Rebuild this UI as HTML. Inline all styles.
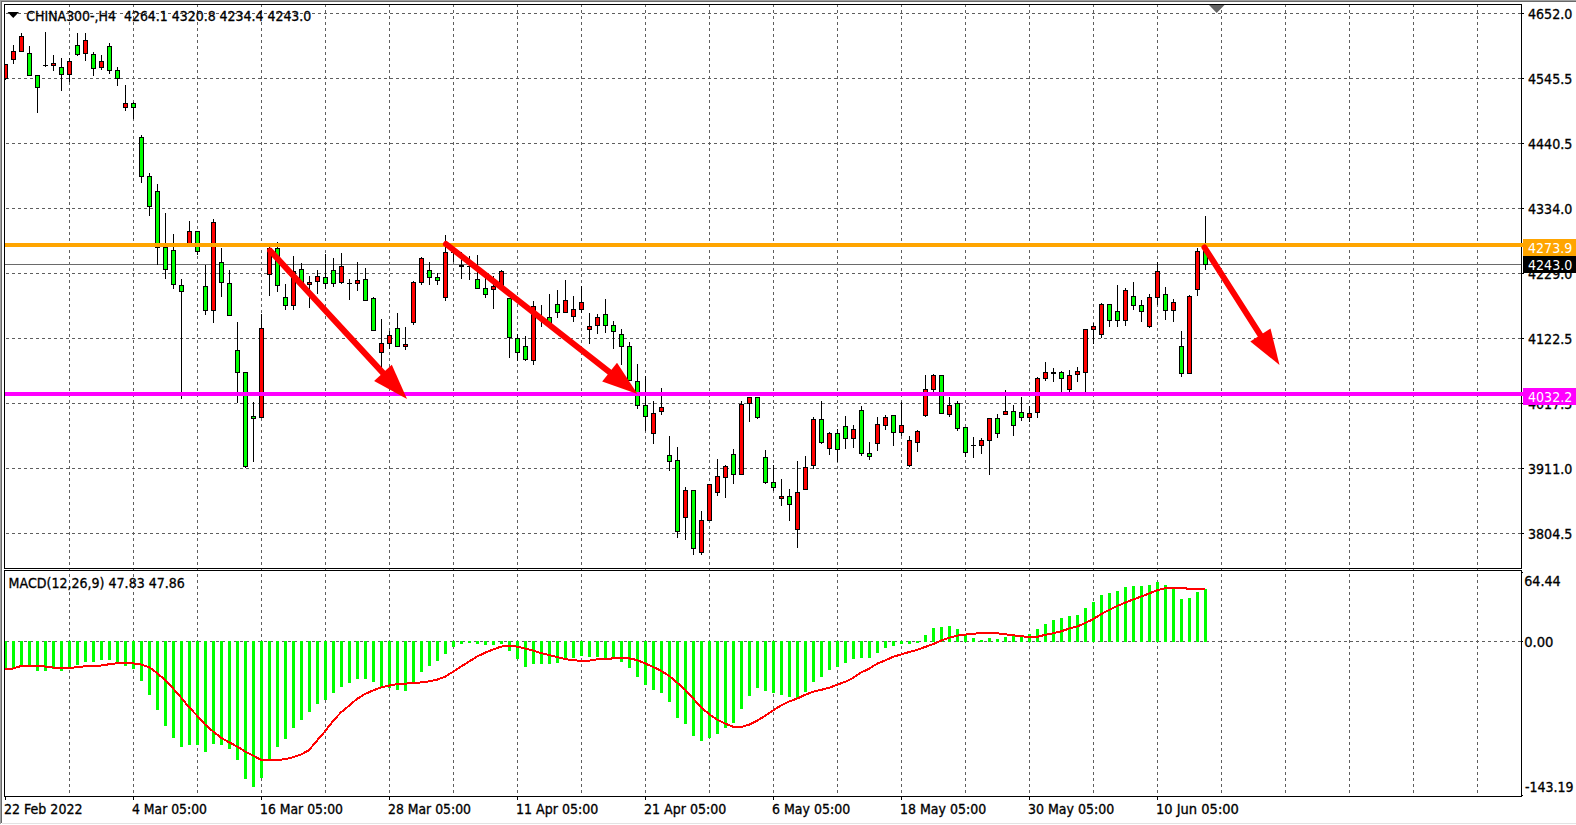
<!DOCTYPE html>
<html><head><meta charset="utf-8"><title>CHINA300-,H4</title>
<style>html,body{margin:0;padding:0;background:#fff;overflow:hidden}svg{display:block}text{white-space:pre}</style></head>
<body>
<svg width="1576" height="825" viewBox="0 0 1576 825" style="display:block">
<rect width="1576" height="825" fill="#fff"/>
<g shape-rendering="crispEdges">
<rect x="0" y="0" width="1576" height="1" fill="#a0a0a0"/>
<rect x="0" y="0" width="1" height="824" fill="#a0a0a0"/>
<rect x="1" y="1" width="1575" height="1" fill="#696969"/>
<rect x="1" y="1" width="1" height="822" fill="#696969"/>
<rect x="2" y="823" width="1574" height="1" fill="#e3e3e3"/>
</g>
<g stroke="#5e5e5e" stroke-width="1" stroke-dasharray="3 3" shape-rendering="crispEdges" fill="none">
<path d="M69.5 4V796"/>
<path d="M133.5 4V796"/>
<path d="M197.5 4V796"/>
<path d="M261.5 4V796"/>
<path d="M325.5 4V796"/>
<path d="M389.5 4V796"/>
<path d="M453.5 4V796"/>
<path d="M517.5 4V796"/>
<path d="M581.5 4V796"/>
<path d="M645.5 4V796"/>
<path d="M709.5 4V796"/>
<path d="M773.5 4V796"/>
<path d="M837.5 4V796"/>
<path d="M901.5 4V796"/>
<path d="M965.5 4V796"/>
<path d="M1029.5 4V796"/>
<path d="M1093.5 4V796"/>
<path d="M1157.5 4V796"/>
<path d="M1221.5 4V796"/>
<path d="M1285.5 4V796"/>
<path d="M1349.5 4V796"/>
<path d="M1413.5 4V796"/>
<path d="M1477.5 4V796"/>
<path d="M6 13.5H1521"/>
<path d="M6 78.5H1521"/>
<path d="M6 143.5H1521"/>
<path d="M6 208.5H1521"/>
<path d="M6 273.5H1521"/>
<path d="M6 338.5H1521"/>
<path d="M6 403.5H1521"/>
<path d="M6 468.5H1521"/>
<path d="M6 533.5H1521"/>
<path d="M6 641.5H1521"/>
</g>
<g shape-rendering="crispEdges">
<rect x="5" y="264" width="1516" height="1" fill="#6a6a6a"/>
<rect x="5" y="64" width="1" height="16" fill="#000"/>
<rect x="5" y="64" width="3" height="15" fill="#000"/>
<rect x="5" y="65" width="2" height="13" fill="#f00"/>
<rect x="13" y="45" width="1" height="19" fill="#000"/>
<rect x="11" y="51" width="5" height="9" fill="#000"/>
<rect x="12" y="52" width="3" height="7" fill="#f00"/>
<rect x="21" y="33" width="1" height="19" fill="#000"/>
<rect x="19" y="36" width="5" height="16" fill="#000"/>
<rect x="20" y="37" width="3" height="14" fill="#f00"/>
<rect x="29" y="46" width="1" height="30" fill="#000"/>
<rect x="27" y="53" width="5" height="23" fill="#000"/>
<rect x="28" y="54" width="3" height="21" fill="#0f0"/>
<rect x="37" y="75" width="1" height="38" fill="#000"/>
<rect x="35" y="75" width="5" height="13" fill="#000"/>
<rect x="36" y="76" width="3" height="11" fill="#0f0"/>
<rect x="45" y="32" width="1" height="35" fill="#000"/>
<rect x="43" y="65" width="5" height="1" fill="#000"/>
<rect x="53" y="55" width="1" height="16" fill="#000"/>
<rect x="51" y="63" width="5" height="3" fill="#000"/>
<rect x="52" y="64" width="3" height="1" fill="#f00"/>
<rect x="61" y="58" width="1" height="33" fill="#000"/>
<rect x="59" y="67" width="5" height="8" fill="#000"/>
<rect x="60" y="68" width="3" height="6" fill="#0f0"/>
<rect x="69" y="58" width="1" height="24" fill="#000"/>
<rect x="67" y="61" width="5" height="14" fill="#000"/>
<rect x="68" y="62" width="3" height="12" fill="#f00"/>
<rect x="77" y="33" width="1" height="23" fill="#000"/>
<rect x="75" y="45" width="5" height="10" fill="#000"/>
<rect x="76" y="46" width="3" height="8" fill="#0f0"/>
<rect x="85" y="33" width="1" height="28" fill="#000"/>
<rect x="83" y="40" width="5" height="14" fill="#000"/>
<rect x="84" y="41" width="3" height="12" fill="#f00"/>
<rect x="93" y="52" width="1" height="24" fill="#000"/>
<rect x="91" y="54" width="5" height="15" fill="#000"/>
<rect x="92" y="55" width="3" height="13" fill="#0f0"/>
<rect x="101" y="55" width="1" height="15" fill="#000"/>
<rect x="99" y="61" width="5" height="7" fill="#000"/>
<rect x="100" y="62" width="3" height="5" fill="#f00"/>
<rect x="109" y="43" width="1" height="31" fill="#000"/>
<rect x="107" y="46" width="5" height="25" fill="#000"/>
<rect x="108" y="47" width="3" height="23" fill="#0f0"/>
<rect x="117" y="67" width="1" height="19" fill="#000"/>
<rect x="115" y="70" width="5" height="9" fill="#000"/>
<rect x="116" y="71" width="3" height="7" fill="#0f0"/>
<rect x="125" y="85" width="1" height="26" fill="#000"/>
<rect x="123" y="103" width="5" height="5" fill="#000"/>
<rect x="124" y="104" width="3" height="3" fill="#f00"/>
<rect x="133" y="102" width="1" height="17" fill="#000"/>
<rect x="131" y="103" width="5" height="5" fill="#000"/>
<rect x="132" y="104" width="3" height="3" fill="#0f0"/>
<rect x="141" y="135" width="1" height="48" fill="#000"/>
<rect x="139" y="137" width="5" height="40" fill="#000"/>
<rect x="140" y="138" width="3" height="38" fill="#0f0"/>
<rect x="149" y="173" width="1" height="43" fill="#000"/>
<rect x="147" y="176" width="5" height="31" fill="#000"/>
<rect x="148" y="177" width="3" height="29" fill="#0f0"/>
<rect x="157" y="184" width="1" height="81" fill="#000"/>
<rect x="155" y="191" width="5" height="57" fill="#000"/>
<rect x="156" y="192" width="3" height="55" fill="#0f0"/>
<rect x="165" y="213" width="1" height="66" fill="#000"/>
<rect x="163" y="247" width="5" height="23" fill="#000"/>
<rect x="164" y="248" width="3" height="21" fill="#0f0"/>
<rect x="173" y="234" width="1" height="55" fill="#000"/>
<rect x="171" y="250" width="5" height="35" fill="#000"/>
<rect x="172" y="251" width="3" height="33" fill="#0f0"/>
<rect x="181" y="279" width="1" height="120" fill="#000"/>
<rect x="179" y="285" width="5" height="7" fill="#000"/>
<rect x="180" y="286" width="3" height="5" fill="#0f0"/>
<rect x="189" y="221" width="1" height="25" fill="#000"/>
<rect x="187" y="231" width="5" height="15" fill="#000"/>
<rect x="188" y="232" width="3" height="13" fill="#f00"/>
<rect x="197" y="231" width="1" height="24" fill="#000"/>
<rect x="195" y="231" width="5" height="21" fill="#000"/>
<rect x="196" y="232" width="3" height="19" fill="#0f0"/>
<rect x="205" y="265" width="1" height="50" fill="#000"/>
<rect x="203" y="286" width="5" height="25" fill="#000"/>
<rect x="204" y="287" width="3" height="23" fill="#0f0"/>
<rect x="213" y="219" width="1" height="104" fill="#000"/>
<rect x="211" y="222" width="5" height="89" fill="#000"/>
<rect x="212" y="223" width="3" height="87" fill="#f00"/>
<rect x="221" y="248" width="1" height="49" fill="#000"/>
<rect x="219" y="262" width="5" height="21" fill="#000"/>
<rect x="220" y="263" width="3" height="19" fill="#0f0"/>
<rect x="229" y="270" width="1" height="46" fill="#000"/>
<rect x="227" y="283" width="5" height="33" fill="#000"/>
<rect x="228" y="284" width="3" height="31" fill="#0f0"/>
<rect x="237" y="322" width="1" height="81" fill="#000"/>
<rect x="235" y="350" width="5" height="23" fill="#000"/>
<rect x="236" y="351" width="3" height="21" fill="#0f0"/>
<rect x="245" y="372" width="1" height="96" fill="#000"/>
<rect x="243" y="372" width="5" height="95" fill="#000"/>
<rect x="244" y="373" width="3" height="93" fill="#0f0"/>
<rect x="253" y="402" width="1" height="60" fill="#000"/>
<rect x="251" y="416" width="5" height="3" fill="#000"/>
<rect x="252" y="417" width="3" height="1" fill="#0f0"/>
<rect x="261" y="314" width="1" height="104" fill="#000"/>
<rect x="259" y="328" width="5" height="90" fill="#000"/>
<rect x="260" y="329" width="3" height="88" fill="#f00"/>
<rect x="269" y="247" width="1" height="49" fill="#000"/>
<rect x="267" y="248" width="5" height="27" fill="#000"/>
<rect x="268" y="249" width="3" height="25" fill="#f00"/>
<rect x="277" y="242" width="1" height="50" fill="#000"/>
<rect x="275" y="248" width="5" height="38" fill="#000"/>
<rect x="276" y="249" width="3" height="36" fill="#0f0"/>
<rect x="285" y="284" width="1" height="26" fill="#000"/>
<rect x="283" y="297" width="5" height="9" fill="#000"/>
<rect x="284" y="298" width="3" height="7" fill="#0f0"/>
<rect x="293" y="256" width="1" height="54" fill="#000"/>
<rect x="291" y="271" width="5" height="35" fill="#000"/>
<rect x="292" y="272" width="3" height="33" fill="#f00"/>
<rect x="301" y="263" width="1" height="21" fill="#000"/>
<rect x="299" y="269" width="5" height="14" fill="#000"/>
<rect x="300" y="270" width="3" height="12" fill="#0f0"/>
<rect x="309" y="276" width="1" height="32" fill="#000"/>
<rect x="307" y="282" width="5" height="3" fill="#000"/>
<rect x="308" y="283" width="3" height="1" fill="#f00"/>
<rect x="317" y="270" width="1" height="24" fill="#000"/>
<rect x="315" y="276" width="5" height="6" fill="#000"/>
<rect x="316" y="277" width="3" height="4" fill="#f00"/>
<rect x="325" y="254" width="1" height="35" fill="#000"/>
<rect x="323" y="277" width="5" height="7" fill="#000"/>
<rect x="324" y="278" width="3" height="5" fill="#0f0"/>
<rect x="333" y="258" width="1" height="29" fill="#000"/>
<rect x="331" y="270" width="5" height="14" fill="#000"/>
<rect x="332" y="271" width="3" height="12" fill="#0f0"/>
<rect x="341" y="253" width="1" height="31" fill="#000"/>
<rect x="339" y="266" width="5" height="17" fill="#000"/>
<rect x="340" y="267" width="3" height="15" fill="#f00"/>
<rect x="349" y="279" width="1" height="21" fill="#000"/>
<rect x="347" y="283" width="5" height="1" fill="#000"/>
<rect x="357" y="262" width="1" height="29" fill="#000"/>
<rect x="355" y="280" width="5" height="4" fill="#000"/>
<rect x="356" y="281" width="3" height="2" fill="#f00"/>
<rect x="365" y="268" width="1" height="33" fill="#000"/>
<rect x="363" y="279" width="5" height="22" fill="#000"/>
<rect x="364" y="280" width="3" height="20" fill="#0f0"/>
<rect x="373" y="297" width="1" height="34" fill="#000"/>
<rect x="371" y="298" width="5" height="33" fill="#000"/>
<rect x="372" y="299" width="3" height="31" fill="#0f0"/>
<rect x="381" y="319" width="1" height="49" fill="#000"/>
<rect x="379" y="343" width="5" height="10" fill="#000"/>
<rect x="380" y="344" width="3" height="8" fill="#f00"/>
<rect x="389" y="331" width="1" height="18" fill="#000"/>
<rect x="387" y="335" width="5" height="9" fill="#000"/>
<rect x="388" y="336" width="3" height="7" fill="#f00"/>
<rect x="397" y="313" width="1" height="34" fill="#000"/>
<rect x="395" y="328" width="5" height="19" fill="#000"/>
<rect x="396" y="329" width="3" height="17" fill="#0f0"/>
<rect x="405" y="327" width="1" height="23" fill="#000"/>
<rect x="403" y="344" width="5" height="3" fill="#000"/>
<rect x="404" y="345" width="3" height="1" fill="#f00"/>
<rect x="413" y="281" width="1" height="44" fill="#000"/>
<rect x="411" y="282" width="5" height="41" fill="#000"/>
<rect x="412" y="283" width="3" height="39" fill="#f00"/>
<rect x="421" y="257" width="1" height="28" fill="#000"/>
<rect x="419" y="258" width="5" height="25" fill="#000"/>
<rect x="420" y="259" width="3" height="23" fill="#f00"/>
<rect x="429" y="262" width="1" height="23" fill="#000"/>
<rect x="427" y="270" width="5" height="8" fill="#000"/>
<rect x="428" y="271" width="3" height="6" fill="#0f0"/>
<rect x="437" y="273" width="1" height="12" fill="#000"/>
<rect x="435" y="277" width="5" height="4" fill="#000"/>
<rect x="436" y="278" width="3" height="2" fill="#0f0"/>
<rect x="445" y="235" width="1" height="66" fill="#000"/>
<rect x="443" y="252" width="5" height="46" fill="#000"/>
<rect x="444" y="253" width="3" height="44" fill="#f00"/>
<rect x="453" y="250" width="1" height="12" fill="#000"/>
<rect x="451" y="252" width="5" height="1" fill="#000"/>
<rect x="461" y="252" width="1" height="27" fill="#000"/>
<rect x="459" y="265" width="5" height="2" fill="#000"/>
<rect x="469" y="256" width="1" height="24" fill="#000"/>
<rect x="467" y="266" width="5" height="1" fill="#000"/>
<rect x="477" y="255" width="1" height="34" fill="#000"/>
<rect x="475" y="279" width="5" height="10" fill="#000"/>
<rect x="476" y="280" width="3" height="8" fill="#0f0"/>
<rect x="485" y="277" width="1" height="21" fill="#000"/>
<rect x="483" y="288" width="5" height="7" fill="#000"/>
<rect x="484" y="289" width="3" height="5" fill="#0f0"/>
<rect x="493" y="276" width="1" height="33" fill="#000"/>
<rect x="491" y="286" width="5" height="4" fill="#000"/>
<rect x="492" y="287" width="3" height="2" fill="#f00"/>
<rect x="501" y="270" width="1" height="18" fill="#000"/>
<rect x="499" y="271" width="5" height="17" fill="#000"/>
<rect x="500" y="272" width="3" height="15" fill="#f00"/>
<rect x="509" y="298" width="1" height="60" fill="#000"/>
<rect x="507" y="298" width="5" height="40" fill="#000"/>
<rect x="508" y="299" width="3" height="38" fill="#0f0"/>
<rect x="517" y="334" width="1" height="27" fill="#000"/>
<rect x="515" y="338" width="5" height="15" fill="#000"/>
<rect x="516" y="339" width="3" height="13" fill="#0f0"/>
<rect x="525" y="336" width="1" height="25" fill="#000"/>
<rect x="523" y="346" width="5" height="14" fill="#000"/>
<rect x="524" y="347" width="3" height="12" fill="#0f0"/>
<rect x="533" y="301" width="1" height="64" fill="#000"/>
<rect x="531" y="306" width="5" height="55" fill="#000"/>
<rect x="532" y="307" width="3" height="53" fill="#f00"/>
<rect x="541" y="305" width="1" height="22" fill="#000"/>
<rect x="539" y="318" width="5" height="1" fill="#000"/>
<rect x="549" y="294" width="1" height="30" fill="#000"/>
<rect x="547" y="317" width="5" height="7" fill="#000"/>
<rect x="548" y="318" width="3" height="5" fill="#0f0"/>
<rect x="557" y="290" width="1" height="28" fill="#000"/>
<rect x="555" y="304" width="5" height="9" fill="#000"/>
<rect x="556" y="305" width="3" height="7" fill="#0f0"/>
<rect x="565" y="280" width="1" height="33" fill="#000"/>
<rect x="563" y="300" width="5" height="13" fill="#000"/>
<rect x="564" y="301" width="3" height="11" fill="#f00"/>
<rect x="573" y="296" width="1" height="26" fill="#000"/>
<rect x="571" y="309" width="5" height="8" fill="#000"/>
<rect x="572" y="310" width="3" height="6" fill="#f00"/>
<rect x="581" y="286" width="1" height="27" fill="#000"/>
<rect x="579" y="302" width="5" height="8" fill="#000"/>
<rect x="580" y="303" width="3" height="6" fill="#f00"/>
<rect x="589" y="313" width="1" height="31" fill="#000"/>
<rect x="587" y="326" width="5" height="4" fill="#000"/>
<rect x="588" y="327" width="3" height="2" fill="#f00"/>
<rect x="597" y="314" width="1" height="20" fill="#000"/>
<rect x="595" y="317" width="5" height="9" fill="#000"/>
<rect x="596" y="318" width="3" height="7" fill="#f00"/>
<rect x="605" y="299" width="1" height="34" fill="#000"/>
<rect x="603" y="314" width="5" height="12" fill="#000"/>
<rect x="604" y="315" width="3" height="10" fill="#0f0"/>
<rect x="613" y="321" width="1" height="28" fill="#000"/>
<rect x="611" y="325" width="5" height="7" fill="#000"/>
<rect x="612" y="326" width="3" height="5" fill="#0f0"/>
<rect x="621" y="329" width="1" height="36" fill="#000"/>
<rect x="619" y="334" width="5" height="13" fill="#000"/>
<rect x="620" y="335" width="3" height="11" fill="#0f0"/>
<rect x="629" y="342" width="1" height="39" fill="#000"/>
<rect x="627" y="346" width="5" height="35" fill="#000"/>
<rect x="628" y="347" width="3" height="33" fill="#0f0"/>
<rect x="637" y="364" width="1" height="45" fill="#000"/>
<rect x="635" y="381" width="5" height="25" fill="#000"/>
<rect x="636" y="382" width="3" height="23" fill="#0f0"/>
<rect x="645" y="376" width="1" height="55" fill="#000"/>
<rect x="643" y="405" width="5" height="12" fill="#000"/>
<rect x="644" y="406" width="3" height="10" fill="#0f0"/>
<rect x="653" y="401" width="1" height="43" fill="#000"/>
<rect x="651" y="413" width="5" height="21" fill="#000"/>
<rect x="652" y="414" width="3" height="19" fill="#f00"/>
<rect x="661" y="388" width="1" height="27" fill="#000"/>
<rect x="659" y="407" width="5" height="5" fill="#000"/>
<rect x="660" y="408" width="3" height="3" fill="#f00"/>
<rect x="669" y="436" width="1" height="35" fill="#000"/>
<rect x="667" y="455" width="5" height="7" fill="#000"/>
<rect x="668" y="456" width="3" height="5" fill="#0f0"/>
<rect x="677" y="447" width="1" height="91" fill="#000"/>
<rect x="675" y="460" width="5" height="72" fill="#000"/>
<rect x="676" y="461" width="3" height="70" fill="#0f0"/>
<rect x="685" y="487" width="1" height="53" fill="#000"/>
<rect x="683" y="490" width="5" height="28" fill="#000"/>
<rect x="684" y="491" width="3" height="26" fill="#f00"/>
<rect x="693" y="490" width="1" height="65" fill="#000"/>
<rect x="691" y="490" width="5" height="59" fill="#000"/>
<rect x="692" y="491" width="3" height="57" fill="#0f0"/>
<rect x="701" y="511" width="1" height="44" fill="#000"/>
<rect x="699" y="520" width="5" height="33" fill="#000"/>
<rect x="700" y="521" width="3" height="31" fill="#f00"/>
<rect x="709" y="484" width="1" height="37" fill="#000"/>
<rect x="707" y="484" width="5" height="37" fill="#000"/>
<rect x="708" y="485" width="3" height="35" fill="#f00"/>
<rect x="717" y="459" width="1" height="37" fill="#000"/>
<rect x="715" y="476" width="5" height="17" fill="#000"/>
<rect x="716" y="477" width="3" height="15" fill="#f00"/>
<rect x="725" y="465" width="1" height="33" fill="#000"/>
<rect x="723" y="466" width="5" height="12" fill="#000"/>
<rect x="724" y="467" width="3" height="10" fill="#f00"/>
<rect x="733" y="449" width="1" height="35" fill="#000"/>
<rect x="731" y="454" width="5" height="21" fill="#000"/>
<rect x="732" y="455" width="3" height="19" fill="#0f0"/>
<rect x="741" y="401" width="1" height="74" fill="#000"/>
<rect x="739" y="404" width="5" height="71" fill="#000"/>
<rect x="740" y="405" width="3" height="69" fill="#f00"/>
<rect x="749" y="397" width="1" height="25" fill="#000"/>
<rect x="747" y="397" width="5" height="7" fill="#000"/>
<rect x="748" y="398" width="3" height="5" fill="#f00"/>
<rect x="757" y="397" width="1" height="22" fill="#000"/>
<rect x="755" y="397" width="5" height="21" fill="#000"/>
<rect x="756" y="398" width="3" height="19" fill="#0f0"/>
<rect x="765" y="450" width="1" height="34" fill="#000"/>
<rect x="763" y="457" width="5" height="26" fill="#000"/>
<rect x="764" y="458" width="3" height="24" fill="#0f0"/>
<rect x="773" y="465" width="1" height="26" fill="#000"/>
<rect x="771" y="482" width="5" height="6" fill="#000"/>
<rect x="772" y="483" width="3" height="4" fill="#0f0"/>
<rect x="781" y="479" width="1" height="27" fill="#000"/>
<rect x="779" y="496" width="5" height="3" fill="#000"/>
<rect x="780" y="497" width="3" height="1" fill="#f00"/>
<rect x="789" y="489" width="1" height="32" fill="#000"/>
<rect x="787" y="496" width="5" height="9" fill="#000"/>
<rect x="788" y="497" width="3" height="7" fill="#0f0"/>
<rect x="797" y="461" width="1" height="87" fill="#000"/>
<rect x="795" y="492" width="5" height="38" fill="#000"/>
<rect x="796" y="493" width="3" height="36" fill="#f00"/>
<rect x="805" y="456" width="1" height="34" fill="#000"/>
<rect x="803" y="467" width="5" height="23" fill="#000"/>
<rect x="804" y="468" width="3" height="21" fill="#f00"/>
<rect x="813" y="417" width="1" height="52" fill="#000"/>
<rect x="811" y="419" width="5" height="47" fill="#000"/>
<rect x="812" y="420" width="3" height="45" fill="#f00"/>
<rect x="821" y="401" width="1" height="43" fill="#000"/>
<rect x="819" y="419" width="5" height="24" fill="#000"/>
<rect x="820" y="420" width="3" height="22" fill="#0f0"/>
<rect x="829" y="432" width="1" height="23" fill="#000"/>
<rect x="827" y="433" width="5" height="16" fill="#000"/>
<rect x="828" y="434" width="3" height="14" fill="#f00"/>
<rect x="837" y="429" width="1" height="33" fill="#000"/>
<rect x="835" y="433" width="5" height="17" fill="#000"/>
<rect x="836" y="434" width="3" height="15" fill="#0f0"/>
<rect x="845" y="416" width="1" height="33" fill="#000"/>
<rect x="843" y="426" width="5" height="13" fill="#000"/>
<rect x="844" y="427" width="3" height="11" fill="#0f0"/>
<rect x="853" y="425" width="1" height="23" fill="#000"/>
<rect x="851" y="429" width="5" height="10" fill="#000"/>
<rect x="852" y="430" width="3" height="8" fill="#f00"/>
<rect x="861" y="406" width="1" height="50" fill="#000"/>
<rect x="859" y="410" width="5" height="44" fill="#000"/>
<rect x="860" y="411" width="3" height="42" fill="#0f0"/>
<rect x="869" y="442" width="1" height="18" fill="#000"/>
<rect x="867" y="453" width="5" height="4" fill="#000"/>
<rect x="868" y="454" width="3" height="2" fill="#0f0"/>
<rect x="877" y="417" width="1" height="34" fill="#000"/>
<rect x="875" y="424" width="5" height="20" fill="#000"/>
<rect x="876" y="425" width="3" height="18" fill="#f00"/>
<rect x="885" y="415" width="1" height="15" fill="#000"/>
<rect x="883" y="417" width="5" height="9" fill="#000"/>
<rect x="884" y="418" width="3" height="7" fill="#f00"/>
<rect x="893" y="415" width="1" height="31" fill="#000"/>
<rect x="891" y="415" width="5" height="18" fill="#000"/>
<rect x="892" y="416" width="3" height="16" fill="#0f0"/>
<rect x="901" y="402" width="1" height="34" fill="#000"/>
<rect x="899" y="425" width="5" height="8" fill="#000"/>
<rect x="900" y="426" width="3" height="6" fill="#f00"/>
<rect x="909" y="436" width="1" height="31" fill="#000"/>
<rect x="907" y="440" width="5" height="26" fill="#000"/>
<rect x="908" y="441" width="3" height="24" fill="#f00"/>
<rect x="917" y="430" width="1" height="22" fill="#000"/>
<rect x="915" y="431" width="5" height="12" fill="#000"/>
<rect x="916" y="432" width="3" height="10" fill="#f00"/>
<rect x="925" y="375" width="1" height="42" fill="#000"/>
<rect x="923" y="389" width="5" height="27" fill="#000"/>
<rect x="924" y="390" width="3" height="25" fill="#f00"/>
<rect x="933" y="374" width="1" height="18" fill="#000"/>
<rect x="931" y="375" width="5" height="15" fill="#000"/>
<rect x="932" y="376" width="3" height="13" fill="#f00"/>
<rect x="941" y="375" width="1" height="39" fill="#000"/>
<rect x="939" y="375" width="5" height="39" fill="#000"/>
<rect x="940" y="376" width="3" height="37" fill="#0f0"/>
<rect x="949" y="397" width="1" height="20" fill="#000"/>
<rect x="947" y="405" width="5" height="10" fill="#000"/>
<rect x="948" y="406" width="3" height="8" fill="#f00"/>
<rect x="957" y="401" width="1" height="30" fill="#000"/>
<rect x="955" y="403" width="5" height="26" fill="#000"/>
<rect x="956" y="404" width="3" height="24" fill="#0f0"/>
<rect x="965" y="427" width="1" height="30" fill="#000"/>
<rect x="963" y="427" width="5" height="26" fill="#000"/>
<rect x="964" y="428" width="3" height="24" fill="#0f0"/>
<rect x="973" y="437" width="1" height="21" fill="#000"/>
<rect x="971" y="445" width="5" height="1" fill="#000"/>
<rect x="981" y="438" width="1" height="16" fill="#000"/>
<rect x="979" y="440" width="5" height="6" fill="#000"/>
<rect x="980" y="441" width="3" height="4" fill="#f00"/>
<rect x="989" y="418" width="1" height="57" fill="#000"/>
<rect x="987" y="418" width="5" height="23" fill="#000"/>
<rect x="988" y="419" width="3" height="21" fill="#f00"/>
<rect x="997" y="414" width="1" height="24" fill="#000"/>
<rect x="995" y="418" width="5" height="16" fill="#000"/>
<rect x="996" y="419" width="3" height="14" fill="#0f0"/>
<rect x="1005" y="390" width="1" height="25" fill="#000"/>
<rect x="1003" y="411" width="5" height="4" fill="#000"/>
<rect x="1004" y="412" width="3" height="2" fill="#f00"/>
<rect x="1013" y="405" width="1" height="31" fill="#000"/>
<rect x="1011" y="411" width="5" height="15" fill="#000"/>
<rect x="1012" y="412" width="3" height="13" fill="#0f0"/>
<rect x="1021" y="397" width="1" height="24" fill="#000"/>
<rect x="1019" y="412" width="5" height="6" fill="#000"/>
<rect x="1020" y="413" width="3" height="4" fill="#0f0"/>
<rect x="1029" y="406" width="1" height="16" fill="#000"/>
<rect x="1027" y="413" width="5" height="5" fill="#000"/>
<rect x="1028" y="414" width="3" height="3" fill="#f00"/>
<rect x="1037" y="377" width="1" height="41" fill="#000"/>
<rect x="1035" y="378" width="5" height="35" fill="#000"/>
<rect x="1036" y="379" width="3" height="33" fill="#f00"/>
<rect x="1045" y="362" width="1" height="19" fill="#000"/>
<rect x="1043" y="372" width="5" height="7" fill="#000"/>
<rect x="1044" y="373" width="3" height="5" fill="#f00"/>
<rect x="1053" y="368" width="1" height="14" fill="#000"/>
<rect x="1051" y="372" width="5" height="2" fill="#000"/>
<rect x="1061" y="371" width="1" height="21" fill="#000"/>
<rect x="1059" y="372" width="5" height="7" fill="#000"/>
<rect x="1060" y="373" width="3" height="5" fill="#0f0"/>
<rect x="1069" y="370" width="1" height="22" fill="#000"/>
<rect x="1067" y="375" width="5" height="15" fill="#000"/>
<rect x="1068" y="376" width="3" height="13" fill="#f00"/>
<rect x="1077" y="367" width="1" height="15" fill="#000"/>
<rect x="1075" y="371" width="5" height="4" fill="#000"/>
<rect x="1076" y="372" width="3" height="2" fill="#f00"/>
<rect x="1085" y="329" width="1" height="63" fill="#000"/>
<rect x="1083" y="329" width="5" height="44" fill="#000"/>
<rect x="1084" y="330" width="3" height="42" fill="#f00"/>
<rect x="1093" y="323" width="1" height="21" fill="#000"/>
<rect x="1091" y="326" width="5" height="4" fill="#000"/>
<rect x="1092" y="327" width="3" height="2" fill="#f00"/>
<rect x="1101" y="303" width="1" height="35" fill="#000"/>
<rect x="1099" y="304" width="5" height="31" fill="#000"/>
<rect x="1100" y="305" width="3" height="29" fill="#f00"/>
<rect x="1109" y="304" width="1" height="23" fill="#000"/>
<rect x="1107" y="304" width="5" height="17" fill="#000"/>
<rect x="1108" y="305" width="3" height="15" fill="#0f0"/>
<rect x="1117" y="285" width="1" height="42" fill="#000"/>
<rect x="1115" y="311" width="5" height="10" fill="#000"/>
<rect x="1116" y="312" width="3" height="8" fill="#0f0"/>
<rect x="1125" y="288" width="1" height="38" fill="#000"/>
<rect x="1123" y="290" width="5" height="31" fill="#000"/>
<rect x="1124" y="291" width="3" height="29" fill="#f00"/>
<rect x="1133" y="282" width="1" height="28" fill="#000"/>
<rect x="1131" y="296" width="5" height="10" fill="#000"/>
<rect x="1132" y="297" width="3" height="8" fill="#0f0"/>
<rect x="1141" y="300" width="1" height="22" fill="#000"/>
<rect x="1139" y="305" width="5" height="7" fill="#000"/>
<rect x="1140" y="306" width="3" height="5" fill="#0f0"/>
<rect x="1149" y="294" width="1" height="34" fill="#000"/>
<rect x="1147" y="297" width="5" height="30" fill="#000"/>
<rect x="1148" y="298" width="3" height="28" fill="#f00"/>
<rect x="1157" y="262" width="1" height="43" fill="#000"/>
<rect x="1155" y="271" width="5" height="27" fill="#000"/>
<rect x="1156" y="272" width="3" height="25" fill="#f00"/>
<rect x="1165" y="287" width="1" height="33" fill="#000"/>
<rect x="1163" y="294" width="5" height="17" fill="#000"/>
<rect x="1164" y="295" width="3" height="15" fill="#0f0"/>
<rect x="1173" y="299" width="1" height="23" fill="#000"/>
<rect x="1171" y="302" width="5" height="9" fill="#000"/>
<rect x="1172" y="303" width="3" height="7" fill="#f00"/>
<rect x="1181" y="331" width="1" height="46" fill="#000"/>
<rect x="1179" y="346" width="5" height="28" fill="#000"/>
<rect x="1180" y="347" width="3" height="26" fill="#0f0"/>
<rect x="1189" y="295" width="1" height="79" fill="#000"/>
<rect x="1187" y="296" width="5" height="78" fill="#000"/>
<rect x="1188" y="297" width="3" height="76" fill="#f00"/>
<rect x="1197" y="248" width="1" height="48" fill="#000"/>
<rect x="1195" y="251" width="5" height="39" fill="#000"/>
<rect x="1196" y="252" width="3" height="37" fill="#f00"/>
<rect x="1205" y="216" width="1" height="54" fill="#000"/>
<rect x="1203" y="251" width="5" height="14" fill="#000"/>
<rect x="1204" y="252" width="3" height="12" fill="#0f0"/>
<rect x="5" y="641" width="2" height="28" fill="#0f0"/>
<rect x="12" y="641" width="3" height="27" fill="#0f0"/>
<rect x="20" y="641" width="3" height="24" fill="#0f0"/>
<rect x="28" y="641" width="3" height="25" fill="#0f0"/>
<rect x="36" y="641" width="3" height="30" fill="#0f0"/>
<rect x="44" y="641" width="3" height="30" fill="#0f0"/>
<rect x="52" y="641" width="3" height="28" fill="#0f0"/>
<rect x="60" y="641" width="3" height="30" fill="#0f0"/>
<rect x="68" y="641" width="3" height="27" fill="#0f0"/>
<rect x="76" y="641" width="3" height="24" fill="#0f0"/>
<rect x="84" y="641" width="3" height="21" fill="#0f0"/>
<rect x="92" y="641" width="3" height="21" fill="#0f0"/>
<rect x="100" y="641" width="3" height="19" fill="#0f0"/>
<rect x="108" y="641" width="3" height="19" fill="#0f0"/>
<rect x="116" y="641" width="3" height="22" fill="#0f0"/>
<rect x="124" y="641" width="3" height="25" fill="#0f0"/>
<rect x="132" y="641" width="3" height="28" fill="#0f0"/>
<rect x="140" y="641" width="3" height="40" fill="#0f0"/>
<rect x="148" y="641" width="3" height="54" fill="#0f0"/>
<rect x="156" y="641" width="3" height="69" fill="#0f0"/>
<rect x="164" y="641" width="3" height="85" fill="#0f0"/>
<rect x="172" y="641" width="3" height="97" fill="#0f0"/>
<rect x="180" y="641" width="3" height="106" fill="#0f0"/>
<rect x="188" y="641" width="3" height="104" fill="#0f0"/>
<rect x="196" y="641" width="3" height="104" fill="#0f0"/>
<rect x="204" y="641" width="3" height="111" fill="#0f0"/>
<rect x="212" y="641" width="3" height="103" fill="#0f0"/>
<rect x="220" y="641" width="3" height="104" fill="#0f0"/>
<rect x="228" y="641" width="3" height="108" fill="#0f0"/>
<rect x="236" y="641" width="3" height="119" fill="#0f0"/>
<rect x="244" y="641" width="3" height="138" fill="#0f0"/>
<rect x="252" y="641" width="3" height="146" fill="#0f0"/>
<rect x="260" y="641" width="3" height="137" fill="#0f0"/>
<rect x="268" y="641" width="3" height="118" fill="#0f0"/>
<rect x="276" y="641" width="3" height="106" fill="#0f0"/>
<rect x="284" y="641" width="3" height="98" fill="#0f0"/>
<rect x="292" y="641" width="3" height="87" fill="#0f0"/>
<rect x="300" y="641" width="3" height="79" fill="#0f0"/>
<rect x="308" y="641" width="3" height="71" fill="#0f0"/>
<rect x="316" y="641" width="3" height="63" fill="#0f0"/>
<rect x="324" y="641" width="3" height="59" fill="#0f0"/>
<rect x="332" y="641" width="3" height="52" fill="#0f0"/>
<rect x="340" y="641" width="3" height="46" fill="#0f0"/>
<rect x="348" y="641" width="3" height="42" fill="#0f0"/>
<rect x="356" y="641" width="3" height="38" fill="#0f0"/>
<rect x="364" y="641" width="3" height="38" fill="#0f0"/>
<rect x="372" y="641" width="3" height="41" fill="#0f0"/>
<rect x="380" y="641" width="3" height="46" fill="#0f0"/>
<rect x="388" y="641" width="3" height="47" fill="#0f0"/>
<rect x="396" y="641" width="3" height="49" fill="#0f0"/>
<rect x="404" y="641" width="3" height="50" fill="#0f0"/>
<rect x="412" y="641" width="3" height="42" fill="#0f0"/>
<rect x="420" y="641" width="3" height="31" fill="#0f0"/>
<rect x="428" y="641" width="3" height="25" fill="#0f0"/>
<rect x="436" y="641" width="3" height="20" fill="#0f0"/>
<rect x="444" y="641" width="3" height="13" fill="#0f0"/>
<rect x="452" y="641" width="3" height="6" fill="#0f0"/>
<rect x="460" y="641" width="3" height="3" fill="#0f0"/>
<rect x="468" y="641" width="3" height="2" fill="#0f0"/>
<rect x="476" y="641" width="3" height="3" fill="#0f0"/>
<rect x="484" y="641" width="3" height="4" fill="#0f0"/>
<rect x="492" y="641" width="3" height="4" fill="#0f0"/>
<rect x="500" y="641" width="3" height="3" fill="#0f0"/>
<rect x="508" y="641" width="3" height="10" fill="#0f0"/>
<rect x="516" y="641" width="3" height="18" fill="#0f0"/>
<rect x="524" y="641" width="3" height="26" fill="#0f0"/>
<rect x="532" y="641" width="3" height="23" fill="#0f0"/>
<rect x="540" y="641" width="3" height="23" fill="#0f0"/>
<rect x="548" y="641" width="3" height="23" fill="#0f0"/>
<rect x="556" y="641" width="3" height="22" fill="#0f0"/>
<rect x="564" y="641" width="3" height="19" fill="#0f0"/>
<rect x="572" y="641" width="3" height="17" fill="#0f0"/>
<rect x="580" y="641" width="3" height="15" fill="#0f0"/>
<rect x="588" y="641" width="3" height="16" fill="#0f0"/>
<rect x="596" y="641" width="3" height="16" fill="#0f0"/>
<rect x="604" y="641" width="3" height="18" fill="#0f0"/>
<rect x="612" y="641" width="3" height="18" fill="#0f0"/>
<rect x="620" y="641" width="3" height="21" fill="#0f0"/>
<rect x="628" y="641" width="3" height="27" fill="#0f0"/>
<rect x="636" y="641" width="3" height="36" fill="#0f0"/>
<rect x="644" y="641" width="3" height="44" fill="#0f0"/>
<rect x="652" y="641" width="3" height="49" fill="#0f0"/>
<rect x="660" y="641" width="3" height="52" fill="#0f0"/>
<rect x="668" y="641" width="3" height="61" fill="#0f0"/>
<rect x="676" y="641" width="3" height="77" fill="#0f0"/>
<rect x="684" y="641" width="3" height="83" fill="#0f0"/>
<rect x="692" y="641" width="3" height="95" fill="#0f0"/>
<rect x="700" y="641" width="3" height="100" fill="#0f0"/>
<rect x="708" y="641" width="3" height="97" fill="#0f0"/>
<rect x="716" y="641" width="3" height="93" fill="#0f0"/>
<rect x="724" y="641" width="3" height="87" fill="#0f0"/>
<rect x="732" y="641" width="3" height="82" fill="#0f0"/>
<rect x="740" y="641" width="3" height="68" fill="#0f0"/>
<rect x="748" y="641" width="3" height="55" fill="#0f0"/>
<rect x="756" y="641" width="3" height="47" fill="#0f0"/>
<rect x="764" y="641" width="3" height="50" fill="#0f0"/>
<rect x="772" y="641" width="3" height="52" fill="#0f0"/>
<rect x="780" y="641" width="3" height="54" fill="#0f0"/>
<rect x="788" y="641" width="3" height="56" fill="#0f0"/>
<rect x="796" y="641" width="3" height="57" fill="#0f0"/>
<rect x="804" y="641" width="3" height="51" fill="#0f0"/>
<rect x="812" y="641" width="3" height="41" fill="#0f0"/>
<rect x="820" y="641" width="3" height="36" fill="#0f0"/>
<rect x="828" y="641" width="3" height="29" fill="#0f0"/>
<rect x="836" y="641" width="3" height="26" fill="#0f0"/>
<rect x="844" y="641" width="3" height="22" fill="#0f0"/>
<rect x="852" y="641" width="3" height="18" fill="#0f0"/>
<rect x="860" y="641" width="3" height="17" fill="#0f0"/>
<rect x="868" y="641" width="3" height="17" fill="#0f0"/>
<rect x="876" y="641" width="3" height="12" fill="#0f0"/>
<rect x="884" y="641" width="3" height="7" fill="#0f0"/>
<rect x="892" y="641" width="3" height="5" fill="#0f0"/>
<rect x="900" y="641" width="3" height="3" fill="#0f0"/>
<rect x="908" y="641" width="3" height="3" fill="#0f0"/>
<rect x="916" y="641" width="3" height="2" fill="#0f0"/>
<rect x="924" y="635" width="3" height="7" fill="#0f0"/>
<rect x="932" y="628" width="3" height="14" fill="#0f0"/>
<rect x="940" y="627" width="3" height="15" fill="#0f0"/>
<rect x="948" y="626" width="3" height="16" fill="#0f0"/>
<rect x="956" y="629" width="3" height="13" fill="#0f0"/>
<rect x="964" y="635" width="3" height="7" fill="#0f0"/>
<rect x="972" y="638" width="3" height="4" fill="#0f0"/>
<rect x="980" y="640" width="3" height="2" fill="#0f0"/>
<rect x="988" y="638" width="3" height="4" fill="#0f0"/>
<rect x="996" y="639" width="3" height="3" fill="#0f0"/>
<rect x="1004" y="637" width="3" height="5" fill="#0f0"/>
<rect x="1012" y="636" width="3" height="6" fill="#0f0"/>
<rect x="1020" y="636" width="3" height="6" fill="#0f0"/>
<rect x="1028" y="634" width="3" height="8" fill="#0f0"/>
<rect x="1036" y="629" width="3" height="13" fill="#0f0"/>
<rect x="1044" y="624" width="3" height="18" fill="#0f0"/>
<rect x="1052" y="620" width="3" height="22" fill="#0f0"/>
<rect x="1060" y="618" width="3" height="24" fill="#0f0"/>
<rect x="1068" y="616" width="3" height="26" fill="#0f0"/>
<rect x="1076" y="615" width="3" height="27" fill="#0f0"/>
<rect x="1084" y="608" width="3" height="34" fill="#0f0"/>
<rect x="1092" y="602" width="3" height="40" fill="#0f0"/>
<rect x="1100" y="595" width="3" height="47" fill="#0f0"/>
<rect x="1108" y="593" width="3" height="49" fill="#0f0"/>
<rect x="1116" y="591" width="3" height="51" fill="#0f0"/>
<rect x="1124" y="587" width="3" height="55" fill="#0f0"/>
<rect x="1132" y="586" width="3" height="56" fill="#0f0"/>
<rect x="1140" y="586" width="3" height="56" fill="#0f0"/>
<rect x="1148" y="585" width="3" height="57" fill="#0f0"/>
<rect x="1156" y="582" width="3" height="60" fill="#0f0"/>
<rect x="1164" y="585" width="3" height="57" fill="#0f0"/>
<rect x="1172" y="589" width="3" height="53" fill="#0f0"/>
<rect x="1180" y="599" width="3" height="43" fill="#0f0"/>
<rect x="1188" y="598" width="3" height="44" fill="#0f0"/>
<rect x="1196" y="592" width="3" height="50" fill="#0f0"/>
<rect x="1204" y="589" width="3" height="53" fill="#0f0"/>
</g>
<polyline points="5,669 13,668.5 21,666 29,666 37,666 45,666.5 53,667.5 61,667.8 69,667.8 77,667.3 85,666.2 93,666 101,665.5 109,664.3 117,663.2 125,663 133,663.4 141,664.5 149,667.1 157,673 165,680 173,688.3 181,697.5 189,707.2 197,715.6 205,724.5 213,731.4 221,737.7 229,742.2 237,746.5 245,751.4 253,755.4 261,759.9 269,759.9 277,759.9 285,759.3 293,757.3 301,754.6 309,750.1 317,740.6 325,731.4 333,721 341,712.3 349,705.8 357,698.9 365,694 373,690.5 381,687.5 389,685.6 397,684.2 405,683.6 413,683.2 421,682.4 429,681.4 437,679.7 445,676.7 453,671.8 461,666.5 469,661.6 477,656.6 485,652.7 493,649.6 501,646.6 509,645.8 517,646.6 525,648.6 533,650.6 541,653.1 549,655.1 557,657 565,659 573,660.4 581,660.6 589,660.6 597,659.4 605,659 613,658.4 621,658 629,658.4 637,660 645,663.3 653,666.9 661,670.8 669,675.7 677,682.6 685,689.5 693,698.3 701,707.2 709,714.1 717,719.6 725,723.5 733,726.7 741,727.1 749,724.7 757,720.8 765,715.9 773,710.4 781,705.5 789,701.5 797,698.6 805,694.8 813,691.7 821,689.9 829,687.8 837,684.8 845,681.9 853,677.9 861,672.6 869,668.7 877,663.8 885,660.4 893,656.9 901,654.5 909,652 917,650 925,647 933,644.1 941,640.7 949,637.8 957,635.6 965,634.6 973,633.9 981,632.9 989,632.7 997,633.3 1005,634.3 1013,635.3 1021,636.3 1029,636.8 1037,636.9 1045,634.9 1053,633.3 1061,631.4 1069,628.6 1077,626.6 1085,623.1 1093,619.2 1101,614.3 1109,609.9 1117,606 1125,602.8 1133,599.5 1141,596.6 1149,593.6 1157,590.3 1165,588.3 1173,588.1 1181,588.1 1189,588.7 1197,589.1 1205,589.1" fill="none" stroke="#f00" stroke-width="2" stroke-linejoin="round" shape-rendering="crispEdges"/>
<g shape-rendering="crispEdges" fill="#000">
<rect x="4" y="4" width="1518" height="1"/>
<rect x="4" y="568" width="1518" height="1"/>
<rect x="4" y="4" width="1" height="565"/>
<rect x="1521" y="4" width="1" height="565"/>
<rect x="4" y="570" width="1518" height="1"/>
<rect x="4" y="796" width="1518" height="1"/>
<rect x="4" y="570" width="1" height="227"/>
<rect x="1521" y="570" width="1" height="227"/>
<rect x="1522" y="13" width="2" height="1"/>
<rect x="1522" y="78" width="2" height="1"/>
<rect x="1522" y="143" width="2" height="1"/>
<rect x="1522" y="208" width="2" height="1"/>
<rect x="1522" y="273" width="2" height="1"/>
<rect x="1522" y="338" width="2" height="1"/>
<rect x="1522" y="403" width="2" height="1"/>
<rect x="1522" y="468" width="2" height="1"/>
<rect x="1522" y="533" width="2" height="1"/>
<rect x="1522" y="572" width="1" height="1"/>
<rect x="1522" y="641" width="1" height="1"/>
<rect x="1522" y="795" width="1" height="1"/>
<rect x="5" y="797" width="1" height="3"/>
<rect x="133" y="797" width="1" height="3"/>
<rect x="261" y="797" width="1" height="3"/>
<rect x="389" y="797" width="1" height="3"/>
<rect x="517" y="797" width="1" height="3"/>
<rect x="645" y="797" width="1" height="3"/>
<rect x="773" y="797" width="1" height="3"/>
<rect x="901" y="797" width="1" height="3"/>
<rect x="1029" y="797" width="1" height="3"/>
<rect x="1157" y="797" width="1" height="3"/>
</g>
<g shape-rendering="crispEdges">
<rect x="5" y="243" width="1518" height="4" fill="#ffa500"/>
<rect x="5" y="392" width="1518" height="4" fill="#f0f"/>
</g>
<line x1="270.2" y1="250.7" x2="384.3" y2="374.4" stroke="#f00" stroke-width="6" stroke-linecap="round"/>
<polygon points="407,399 374.1,381.0 391.8,364.8" fill="#f00"/>
<line x1="446" y1="244" x2="611.1" y2="373.3" stroke="#f00" stroke-width="6" stroke-linecap="round"/>
<polygon points="637.5,394 602.2,381.6 617.0,362.7" fill="#f00"/>
<line x1="1204.5" y1="247.5" x2="1261.5" y2="336.8" stroke="#f00" stroke-width="6" stroke-linecap="round"/>
<polygon points="1279.5,365 1250.3,341.5 1270.5,328.6" fill="#f00"/>
<polygon points="1209,5 1224.5,5 1216.7,13" fill="#646464"/>
<polygon points="7.5,12 19,12 13.25,18" fill="#000"/>
<g shape-rendering="crispEdges">
<rect x="1523" y="239" width="53" height="17" fill="#ffa500"/>
<rect x="1523" y="256" width="53" height="17" fill="#000"/>
<rect x="1523" y="388" width="53" height="17" fill="#f0f"/>
</g>
<g font-family="'DejaVu Sans Condensed','DejaVu Sans','Liberation Sans',sans-serif" font-size="13.7px" stroke-width="0.3">
<text x="26.3" y="21" fill="#000" stroke="#000" textLength="285" lengthAdjust="spacingAndGlyphs" xml:space="preserve">CHINA300-,H4  4264.1 4320.8 4234.4 4243.0</text>
<text x="8.6" y="588.3" fill="#000" stroke="#000" textLength="176.3" lengthAdjust="spacingAndGlyphs" xml:space="preserve">MACD(12,26,9) 47.83 47.86</text>
<text x="1528" y="19" fill="#000" stroke="#000" textLength="44.3" lengthAdjust="spacingAndGlyphs" xml:space="preserve">4652.0</text>
<text x="1528" y="84" fill="#000" stroke="#000" textLength="44.3" lengthAdjust="spacingAndGlyphs" xml:space="preserve">4545.5</text>
<text x="1528" y="149" fill="#000" stroke="#000" textLength="44.3" lengthAdjust="spacingAndGlyphs" xml:space="preserve">4440.5</text>
<text x="1528" y="214" fill="#000" stroke="#000" textLength="44.3" lengthAdjust="spacingAndGlyphs" xml:space="preserve">4334.0</text>
<text x="1528" y="279" fill="#000" stroke="#000" textLength="44.3" lengthAdjust="spacingAndGlyphs" xml:space="preserve">4229.0</text>
<text x="1528" y="344" fill="#000" stroke="#000" textLength="44.3" lengthAdjust="spacingAndGlyphs" xml:space="preserve">4122.5</text>
<text x="1528" y="409" fill="#000" stroke="#000" textLength="44.3" lengthAdjust="spacingAndGlyphs" xml:space="preserve">4017.5</text>
<text x="1528" y="474" fill="#000" stroke="#000" textLength="44.3" lengthAdjust="spacingAndGlyphs" xml:space="preserve">3911.0</text>
<text x="1528" y="539" fill="#000" stroke="#000" textLength="44.3" lengthAdjust="spacingAndGlyphs" xml:space="preserve">3804.5</text>
<rect x="1523" y="256" width="53" height="17" fill="#000" shape-rendering="crispEdges"/>
<rect x="1523" y="388" width="53" height="17" fill="#f0f" shape-rendering="crispEdges"/>
<text x="1528" y="253" fill="#fff" textLength="44.3" lengthAdjust="spacingAndGlyphs" xml:space="preserve">4273.9</text>
<text x="1528" y="270" fill="#fff" textLength="44.3" lengthAdjust="spacingAndGlyphs" xml:space="preserve">4243.0</text>
<text x="1528" y="402" fill="#fff" textLength="44.3" lengthAdjust="spacingAndGlyphs" xml:space="preserve">4032.2</text>
<text x="1524.2" y="586" fill="#000" stroke="#000" textLength="36.5" lengthAdjust="spacingAndGlyphs" xml:space="preserve">64.44</text>
<text x="1524.2" y="647" fill="#000" stroke="#000" textLength="29.3" lengthAdjust="spacingAndGlyphs" xml:space="preserve">0.00</text>
<text x="1525" y="792" fill="#000" stroke="#000" textLength="48.5" lengthAdjust="spacingAndGlyphs" xml:space="preserve">-143.19</text>
<text x="4" y="814" fill="#000" stroke="#000" textLength="78.5" lengthAdjust="spacingAndGlyphs" xml:space="preserve">22 Feb 2022</text>
<text x="132" y="814" fill="#000" stroke="#000" textLength="75" lengthAdjust="spacingAndGlyphs" xml:space="preserve">4 Mar 05:00</text>
<text x="260" y="814" fill="#000" stroke="#000" textLength="83" lengthAdjust="spacingAndGlyphs" xml:space="preserve">16 Mar 05:00</text>
<text x="388" y="814" fill="#000" stroke="#000" textLength="83" lengthAdjust="spacingAndGlyphs" xml:space="preserve">28 Mar 05:00</text>
<text x="516" y="814" fill="#000" stroke="#000" textLength="82.3" lengthAdjust="spacingAndGlyphs" xml:space="preserve">11 Apr 05:00</text>
<text x="644" y="814" fill="#000" stroke="#000" textLength="82.3" lengthAdjust="spacingAndGlyphs" xml:space="preserve">21 Apr 05:00</text>
<text x="772" y="814" fill="#000" stroke="#000" textLength="78.2" lengthAdjust="spacingAndGlyphs" xml:space="preserve">6 May 05:00</text>
<text x="900" y="814" fill="#000" stroke="#000" textLength="86.2" lengthAdjust="spacingAndGlyphs" xml:space="preserve">18 May 05:00</text>
<text x="1028" y="814" fill="#000" stroke="#000" textLength="86.2" lengthAdjust="spacingAndGlyphs" xml:space="preserve">30 May 05:00</text>
<text x="1156" y="814" fill="#000" stroke="#000" textLength="82.9" lengthAdjust="spacingAndGlyphs" xml:space="preserve">10 Jun 05:00</text>
</g>
</svg>
</body></html>
